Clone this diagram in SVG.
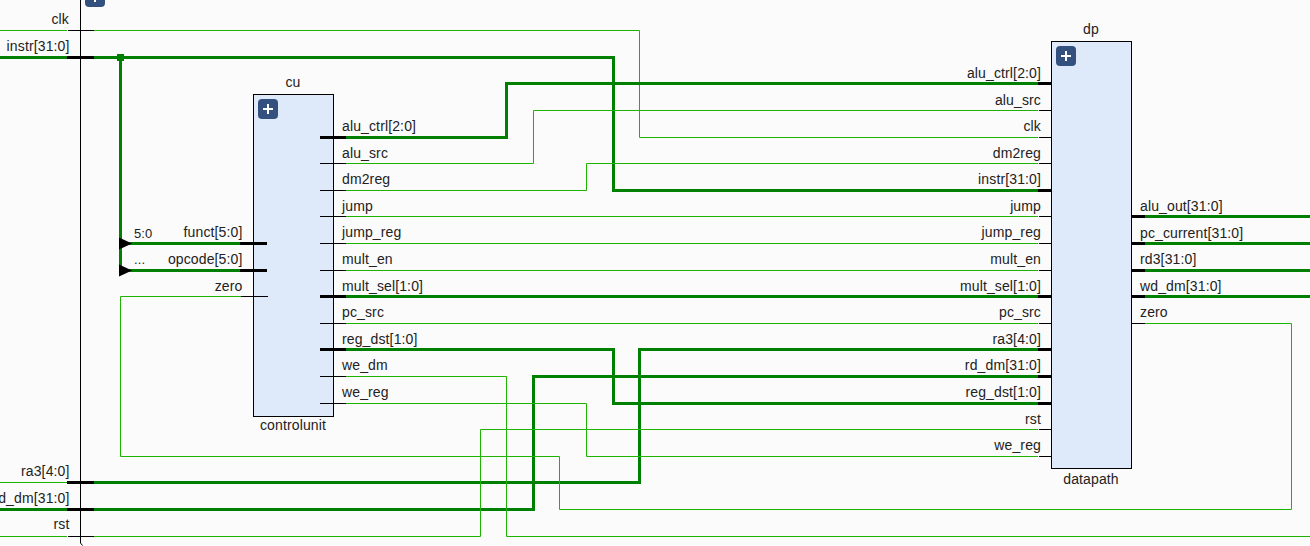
<svg xmlns="http://www.w3.org/2000/svg" width="1310" height="546" viewBox="0 0 1310 546">
<style>
text{font-family:"Liberation Sans",Arial,sans-serif;font-size:14px;fill:#222;letter-spacing:.13px}
.e{text-anchor:end}.m{text-anchor:middle}.s{font-size:13px}
.w{fill:none;stroke:#1db300;stroke-width:1}
.b{fill:none;stroke:#008000;stroke-width:3}
.p{fill:none;stroke:#000;stroke-width:1}
.q{fill:none;stroke:#000;stroke-width:3}
.box{fill:#deeaf9;stroke:#000;stroke-width:1}
.btn{fill:#34507f}
.plus{fill:none;stroke:#fff;stroke-width:2}
</style>
<defs>
<g id="exp"><rect class="btn" width="20" height="20" rx="4"/><path class="plus" d="M5 10H15M10 5V15"/></g>
</defs>
<rect width="1310" height="546" fill="#fbfbfb"/>
<g id="hier-frame">
<use href="#exp" x="85" y="-13"/>
<path class="p" d="M80.5 0V543L82.5 545.5"/>
</g>
<g id="connectors">
<path class="w" d="M0 30.5H67"/>
<path class="w" d="M94 30.5H639.5V137.5H1038"/>
<path class="b" d="M0 57.5H67"/>
<path class="b" d="M94 57.5H613.5V190.5H1038"/>
<path class="b" d="M120.5 57.5V270.5"/>
<path class="b" d="M120.5 243.5H240"/>
<path class="b" d="M120.5 270.5H240"/>
<path class="w" d="M0 482.5H67"/>
<path class="b" d="M94 482.5H639.5V349.5H1038"/>
<path class="b" d="M0 509.5H67"/>
<path class="b" d="M94 509.5H533.5V376.5H1038"/>
<path class="w" d="M0 536.5H67"/>
<path class="w" d="M94 536.5H480.5V429.5H1038"/>
<path class="b" d="M346 137.5H506.5V83.5H1038"/>
<path class="w" d="M346 163.5H533.5V110.5H1038"/>
<path class="w" d="M346 190.5H586.5V163.5H1038"/>
<path class="w" d="M346 216.5H1038"/>
<path class="w" d="M346 243.5H1038"/>
<path class="w" d="M346 270.5H1038"/>
<path class="b" d="M346 296.5H1038"/>
<path class="w" d="M346 323.5H1038"/>
<path class="b" d="M346 349.5H613.5V403.5H1038"/>
<path class="w" d="M346 376.5H506.5V536.5H1310"/>
<path class="w" d="M346 403.5H586.5V456.5H1038"/>
<path class="w" d="M1145 323.5H1291.5V509.5H559.5V456.5H120.5V296.5H241"/>
<path class="b" d="M1145 216.5H1310"/>
<path class="b" d="M1145 243.5H1310"/>
<path class="b" d="M1145 270.5H1310"/>
<path class="b" d="M1145 296.5H1310"/>
<rect x="117" y="54" width="7" height="7" fill="#008000"/>
<path d="M119 237.5L132 243.5L119 249.5Z"/>
<path d="M119 264.5L132 270.5L119 276.5Z"/>
<text class="s" x="134" y="238">5:0</text>
<text class="s" x="134" y="264">...</text>
</g>
<g id="port-clk"><path class="p" d="M68 30.5H94"/><text class="e" x="69" y="24">clk</text></g>
<g id="port-instr"><path class="q" d="M67 57.5H94"/><text class="e" x="69.500" y="51">instr[31:0]</text></g>
<g id="port-ra3"><path class="q" d="M67 482.5H94"/><text class="e" x="69.500" y="476">ra3[4:0]</text></g>
<g id="port-rd_dm"><path class="q" d="M67 509.5H94"/><text class="e" x="69.500" y="503">rd_dm[31:0]</text></g>
<g id="port-rst"><path class="p" d="M68 536.5H94"/><text class="e" x="69.500" y="529">rst</text></g>
<g id="cu">
<rect class="box" x="253.5" y="94.5" width="80" height="322"/>
<use href="#exp" x="258" y="99"/>
<text class="m" x="293" y="87">cu</text>
<text class="m" x="293" y="430">controlunit</text>
<path class="q" d="M240 243.5H267M240 270.5H267M320 137.5H346M320 296.5H346M320 349.5H346"/>
<path class="p" d="M241 296.5H268M320 163.5H346M320 190.5H346M320 216.5H346M320 243.5H346M320 270.5H346M320 323.5H346M320 376.5H346M320 403.5H346"/>
<text class="e" x="242.500" y="237">funct[5:0]</text>
<text class="e" x="242.500" y="264">opcode[5:0]</text>
<text class="e" x="242.500" y="291">zero</text>
<text x="342" y="131">alu_ctrl[2:0]</text>
<text x="342" y="158">alu_src</text>
<text x="342" y="184">dm2reg</text>
<text x="342" y="211">jump</text>
<text x="342" y="237">jump_reg</text>
<text x="342" y="264">mult_en</text>
<text x="342" y="291">mult_sel[1:0]</text>
<text x="342" y="317">pc_src</text>
<text x="342" y="344">reg_dst[1:0]</text>
<text x="342" y="370">we_dm</text>
<text x="342" y="397">we_reg</text>
</g>
<g id="dp">
<rect class="box" x="1051.5" y="41.5" width="80" height="427"/>
<use href="#exp" x="1056" y="46"/>
<text class="m" x="1091" y="34">dp</text>
<text class="m" x="1091" y="484">datapath</text>
<path class="q" d="M1038 83.500H1051M1038 190.500H1051M1038 296.500H1051M1038 349.500H1051M1038 376.500H1051M1038 403.500H1051M1132 216.500H1145M1132 243.500H1145M1132 270.500H1145M1132 296.500H1145"/>
<path class="p" d="M1039 110.500H1051M1039 137.500H1051M1039 163.500H1051M1039 216.500H1051M1039 243.500H1051M1039 270.500H1051M1039 323.500H1051M1039 429.500H1051M1039 456.500H1051M1132 323.500H1145"/>
<text class="e" x="1041" y="78">alu_ctrl[2:0]</text>
<text class="e" x="1041" y="105">alu_src</text>
<text class="e" x="1041" y="131">clk</text>
<text class="e" x="1041" y="158">dm2reg</text>
<text class="e" x="1041" y="184">instr[31:0]</text>
<text class="e" x="1041" y="211">jump</text>
<text class="e" x="1041" y="237">jump_reg</text>
<text class="e" x="1041" y="264">mult_en</text>
<text class="e" x="1041" y="291">mult_sel[1:0]</text>
<text class="e" x="1041" y="317">pc_src</text>
<text class="e" x="1041" y="344">ra3[4:0]</text>
<text class="e" x="1041" y="370">rd_dm[31:0]</text>
<text class="e" x="1041" y="397">reg_dst[1:0]</text>
<text class="e" x="1041" y="424">rst</text>
<text class="e" x="1041" y="450">we_reg</text>
<text x="1140" y="211">alu_out[31:0]</text>
<text x="1140" y="238">pc_current[31:0]</text>
<text x="1140" y="264">rd3[31:0]</text>
<text x="1140" y="291">wd_dm[31:0]</text>
<text x="1140" y="317">zero</text>
</g>
</svg>
